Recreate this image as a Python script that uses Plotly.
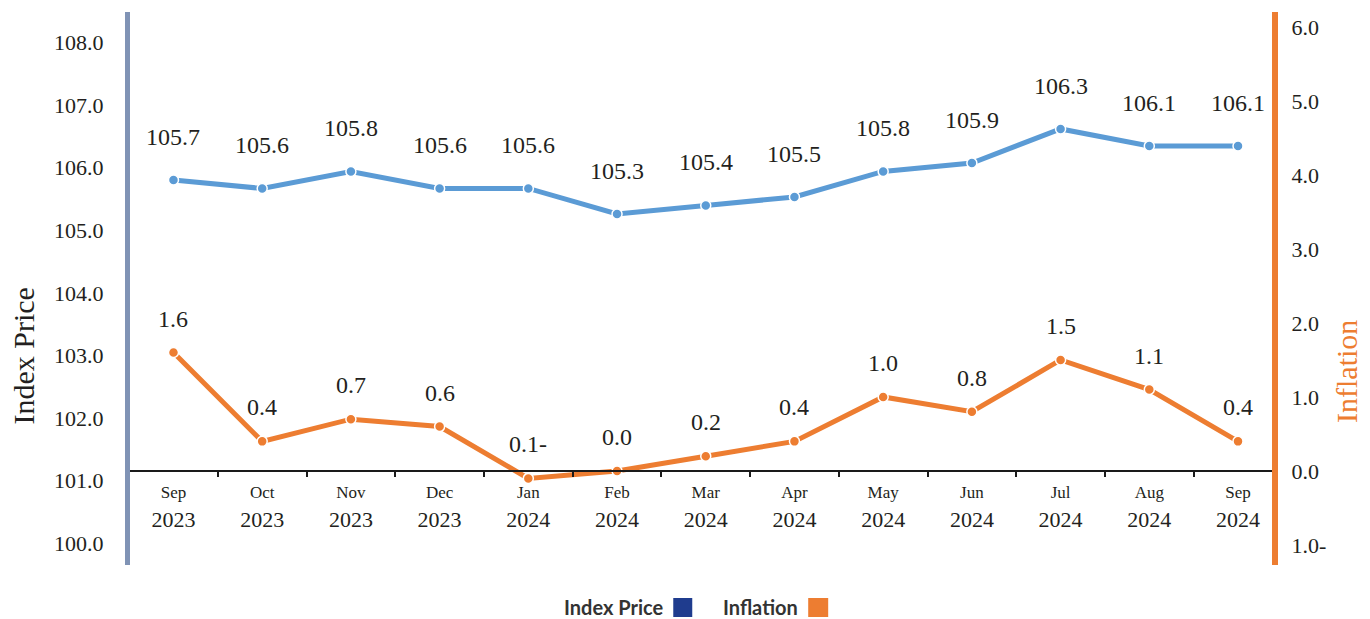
import plotly.graph_objects as go

# ---------------- data ----------------
months = ["Sep", "Oct", "Nov", "Dec", "Jan", "Feb", "Mar", "Apr", "May", "Jun", "Jul", "Aug", "Sep"]
years = ["2023", "2023", "2023", "2023", "2024", "2024", "2024", "2024", "2024", "2024", "2024", "2024", "2024"]
index_price = [105.7, 105.6, 105.8, 105.6, 105.6, 105.3, 105.4, 105.5, 105.8, 105.9, 106.3, 106.1, 106.1]
inflation = [1.6, 0.4, 0.7, 0.6, -0.1, 0.0, 0.2, 0.4, 1.0, 0.8, 1.5, 1.1, 0.4]
left_ticks = [100, 101, 102, 103, 104, 105, 106, 107, 108]
right_ticks = [-1, 0, 1, 2, 3, 4, 5, 6]

# ---------------- layout geometry (screen pixels) ----------------
W, H = 1370, 619
PL, PR, PT, PB = 129.5, 1272, 12, 565   # plot area edges on screen
ML, MT = PL, PT
MR, MB = W - PR, H - PB
PW, PH = PR - PL, PB - PT

BLUE = "#5B9BD5"
ORANGE = "#ED7D31"
LEGEND_BLUE = "#1F3C8E"
LEFT_LINE = "#8093B5"
TXT = "#231F20"
SERIF = "Liberation Serif"
SANS = "Lato"


def fmt(v):
    return f"{abs(v):.1f}-" if v < 0 else f"{v:.1f}"


def px_x(p):
    return (p - PL) / PW


def px_y(p):
    return (PB - p) / PH


cats = [f"{m} {y}" for m, y in zip(months, years)]
ticktext = [f"<span style='font-size:17px'>{m}</span><br>{y}" for m, y in zip(months, years)]

y2_range = [-1.27, 6.2]
x_pos = (0 - y2_range[0]) / (y2_range[1] - y2_range[0])
step = 88.75
x_range = [-(173 - PL) / step, -(173 - PL) / step + PW / step]

fig = go.Figure()

# empty trace so the visible left tick axis gets drawn
fig.add_trace(go.Scatter(x=cats, y=[None] * len(cats), yaxis="y3", showlegend=False,
                         hoverinfo="skip", mode="lines"))

fig.add_trace(go.Scatter(
    x=cats, y=index_price, name="Index Price", mode="lines+markers", yaxis="y",
    line=dict(color=BLUE, width=5),
    marker=dict(size=10, color=BLUE, line=dict(color="white", width=1.5)),
    showlegend=False,
))
fig.add_trace(go.Scatter(
    x=cats, y=inflation, name="Inflation", mode="lines+markers", yaxis="y2",
    line=dict(color=ORANGE, width=5),
    marker=dict(size=10, color=ORANGE, line=dict(color="white", width=1.5)),
    showlegend=False,
))

annotations = []
for c, v in zip(cats, index_price):
    annotations.append(dict(x=c, y=v, xref="x", yref="y", text=fmt(v), showarrow=False,
                            yshift=43, font=dict(family=SERIF, size=24, color=TXT)))
for c, v in zip(cats, inflation):
    annotations.append(dict(x=c, y=v, xref="x", yref="y2", text=fmt(v), showarrow=False,
                            yshift=34, font=dict(family=SERIF, size=24, color=TXT)))

# axis titles
annotations.append(dict(x=px_x(22), y=px_y(356), xref="paper", yref="paper", text="Index Price",
                        xanchor="center", yanchor="middle",
                        textangle=-90, showarrow=False, font=dict(family=SERIF, size=30, color=TXT)))
annotations.append(dict(x=px_x(1346), y=px_y(371), xref="paper", yref="paper", text="Inflation",
                        xanchor="center", yanchor="middle",
                        textangle=-90, showarrow=False, font=dict(family=SERIF, size=30, color=ORANGE)))

# legend (text followed by colour square)
annotations.append(dict(x=px_x(665), y=px_y(607), xref="paper", yref="paper", text="<b>Index Price</b>",
                        xanchor="right", yanchor="middle", showarrow=False,
                        font=dict(family=SANS, size=20, color="#333333")))
annotations.append(dict(x=px_x(800), y=px_y(607), xref="paper", yref="paper", text="<b>Inflation</b>",
                        xanchor="right", yanchor="middle", showarrow=False,
                        font=dict(family=SANS, size=20, color="#333333")))
shapes = [
    dict(type="rect", xref="paper", yref="paper", x0=px_x(673), x1=px_x(692), y0=px_y(617), y1=px_y(598),
         fillcolor=LEGEND_BLUE, line=dict(width=0)),
    dict(type="rect", xref="paper", yref="paper", x0=px_x(808), x1=px_x(828), y0=px_y(617), y1=px_y(598),
         fillcolor=ORANGE, line=dict(width=0)),
]

fig.update_layout(
    width=W, height=H,
    margin=dict(l=ML, r=MR, t=MT, b=MB, pad=0),
    paper_bgcolor="white", plot_bgcolor="white",
    showlegend=False,
    annotations=annotations, shapes=shapes,
    xaxis=dict(
        type="category", categoryorder="array", categoryarray=cats,
        tickvals=cats, ticktext=ticktext,
        range=x_range,
        anchor="free", position=x_pos,
        showline=True, linecolor="#1A1A1A", linewidth=2,
        ticks="outside", tickson="boundaries", ticklen=5, tickcolor="#1A1A1A", tickwidth=1.5,
        showgrid=False, zeroline=False,
        tickfont=dict(family=SERIF, size=22, color=TXT),
        ticklabelstandoff=0,
    ),
    yaxis=dict(
        range=[101.17, 107.676], visible=False, showgrid=False, zeroline=False,
    ),
    yaxis2=dict(
        overlaying="y", side="right", anchor="x",
        range=y2_range,
        tickvals=right_ticks, ticktext=[fmt(v) for v in right_ticks],
        showline=True, linecolor=ORANGE, linewidth=6,
        ticks="", showgrid=False, zeroline=False,
        tickfont=dict(family=SERIF, size=22, color=TXT),
        ticklabelstandoff=9,
    ),
    yaxis3=dict(
        overlaying="y", side="left", anchor="x",
        range=[99.653, 108.487],
        tickvals=left_ticks, ticktext=[f"{v:.1f}" for v in left_ticks],
        showline=True, linecolor=LEFT_LINE, linewidth=5,
        ticks="", showgrid=False, zeroline=False,
        tickfont=dict(family=SERIF, size=22, color=TXT),
        ticklabelstandoff=17,
    ),
)

fig.write_html("out.html", config={"displayModeBar": False},
               post_script="document.body.style.margin='0';")
